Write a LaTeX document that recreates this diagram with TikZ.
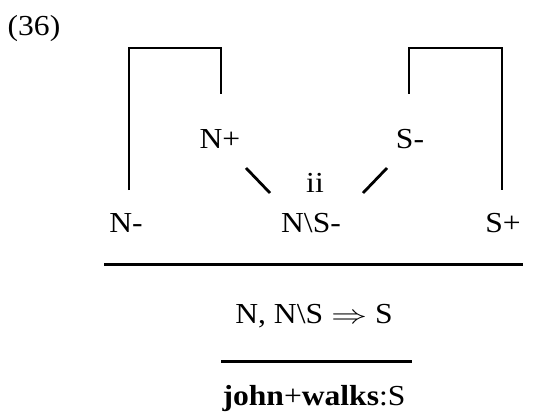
\documentclass[tikz,border=0pt]{standalone}
\usepackage{fontspec}
\setmainfont{Liberation Serif}[FakeStretch=1.09]
\newcommand{\dimp}{\scalebox{1.45}[1.05]{$\Rightarrow$}}
\begin{document}
\begin{tikzpicture}[x=1pt,y=-1pt,
  lbl/.style={anchor=base,inner sep=0pt,font=\fontsize{29}{33}\selectfont},
  link/.style={line width=2.8pt},
  rule/.style={line width=3pt}]
\useasboundingbox (0,0) rectangle (536,412);
\node[lbl] (num) at (34,36) {(36)};
\node[lbl] (np) at (220,149) {N+};
\node[lbl] (sm) at (410,149) {S-};
\node[lbl] (ii) at (315,192) {ii};
\node[lbl] (nm) at (126,232) {N-};
\node[lbl] (nsm) at (311,232) {N\textbackslash S-};
\node[lbl] (sp) at (503,232) {S+};
\node[lbl] (seq) at (314,323) {N, N\textbackslash S \dimp{} S};
\node[lbl] (res) at (314,405) {\textbf{john}+\textbf{walks}:S};
% links
\coordinate (lt) at (129,48);
\coordinate (rt) at (502,48);
\draw[link] (129,190) |- (lt) -| (221,94);
\draw[link] (409,94) |- (rt) -| (502,190);
\draw[link] (246,168) -- (270,193);
\draw[link] (363,193) -- (387,168);
% rules
\draw[rule] (104,264) -- (523,264);
\draw[rule] (221,361) -- (412,361);
\end{tikzpicture}
\end{document}
